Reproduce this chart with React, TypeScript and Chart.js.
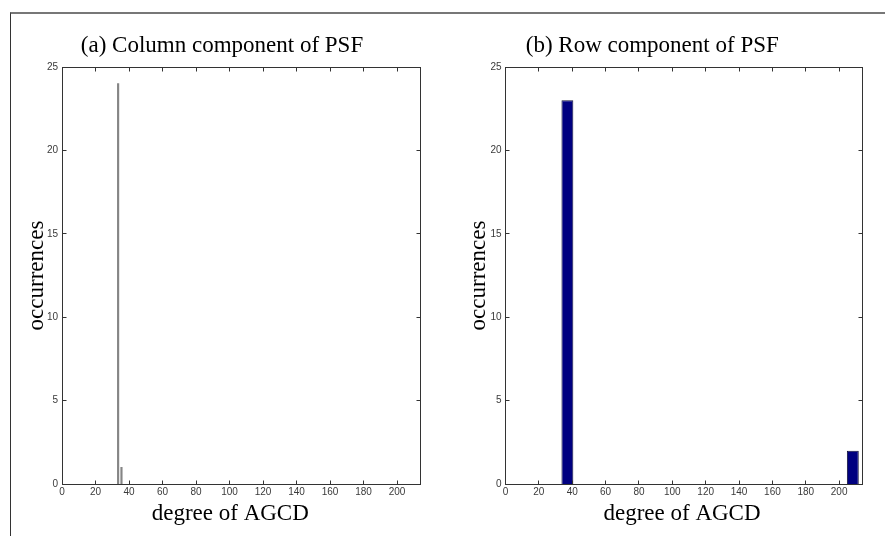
import React, { useEffect, useRef } from 'react';
import { Chart, registerables } from 'chart.js';

Chart.register(...registerables);

// ---- data ----
const xMin = 0;
const xMax = 214;
const xTickStep = 20;
const yMin = 0;
const yMax = 25;
const yTickStep = 5;

const colBinCenters = [33.5, 35.5];
const colCounts = [24, 1];

const rowBinCenters = [37.1, 208.2];
const rowCounts = [23, 2];
const rowBinWidth = 7.13;

const panelTitles = ['(a) Column component of PSF', '(b) Row component of PSF'];
const xAxisLabel = 'degree of AGCD';
const yAxisLabel = 'occurrences';

// ---- styles ----
const SERIF = '"Liberation Serif", "Times New Roman", serif';
const SANS = '"Liberation Sans Narrow", "Liberation Sans", Arial, sans-serif';
const AXIS_COLOR = '#333333';
const TICK_TEXT = '#3a3a3a';

const boxTicksPlugin = {
  id: 'boxTicks',
  afterDraw(chart: any, _args: any, opts: any) {
    const { ctx, chartArea: a, scales } = chart;
    const xs = scales.x;
    const ys = scales.y;
    const len = opts?.length ?? 4;
    const al = (v: number) => Math.floor(v) + 0.5;
    const L = al(a.left);
    const R = al(a.right);
    const T = al(a.top);
    const B = al(a.bottom);
    ctx.save();
    ctx.strokeStyle = AXIS_COLOR;
    ctx.lineWidth = 1;
    ctx.beginPath();
    xs.ticks.forEach((t: any) => {
      const px = al(xs.getPixelForValue(t.value));
      ctx.moveTo(px, B);
      ctx.lineTo(px, B - len);
      ctx.moveTo(px, T);
      ctx.lineTo(px, T + len);
    });
    ys.ticks.forEach((t: any) => {
      const py = al(ys.getPixelForValue(t.value));
      ctx.moveTo(L, py);
      ctx.lineTo(L + len, py);
      ctx.moveTo(R, py);
      ctx.lineTo(R - len, py);
    });
    ctx.stroke();
    ctx.strokeRect(L, T, R - L, B - T);
    ctx.restore();
  },
};

const xCaptionPlugin = {
  id: 'xCaption',
  afterDraw(chart: any, _args: any, opts: any) {
    if (!opts || !opts.text) return;
    const { ctx, chartArea: a } = chart;
    ctx.save();
    ctx.font = `${opts.size}px ${SERIF}`;
    ctx.fillStyle = '#000';
    ctx.textAlign = 'center';
    ctx.textBaseline = 'alphabetic';
    ctx.fillText(opts.text, (a.left + a.right) / 2 + opts.dx, a.bottom + opts.dy);
    ctx.restore();
  },
};

type PanelProps = {
  title: string;
  centers: number[];
  counts: number[];
  dataset: any;
  left: number;
  width: number;
  yAxisWidth: number;
  padLeft: number;
  padRight: number;
  yTitlePad: number;
  captionDx: number;
};

function HistPanel(p: PanelProps) {
  const ref = useRef<HTMLCanvasElement | null>(null);
  useEffect(() => {
    if (!ref.current) return;
    const data = p.centers.map((c, i) => ({ x: c, y: p.counts[i] }));
    const chart = new Chart(ref.current, {
      type: 'bar',
      data: {
        datasets: [
          {
            data,
            ...p.dataset,
          },
        ],
      },
      plugins: [boxTicksPlugin, xCaptionPlugin],
      options: {
        responsive: false,
        animation: false,
        events: [],
        layout: { padding: { left: p.padLeft, top: 0, right: p.padRight, bottom: 0 } },
        plugins: {
          legend: { display: false },
          tooltip: { enabled: false },
          title: {
            display: true,
            text: p.title,
            color: '#000',
            font: { family: SERIF, size: 23, weight: 'normal', lineHeight: 1.2 },
            padding: { top: 31.9, bottom: 7.5 },
          },
          boxTicks: { length: 4 },
          xCaption: { text: xAxisLabel, size: 23, dx: p.captionDx, dy: 36 },
        } as any,
        scales: {
          x: {
            type: 'linear',
            min: xMin,
            max: xMax,
            offset: false,
            grid: { display: false, drawTicks: false },
            border: { display: false },
            ticks: {
              stepSize: xTickStep,
              includeBounds: false,
              padding: 2,
              maxRotation: 0,
              autoSkip: false,
              color: TICK_TEXT,
              font: { family: SANS, size: 10 },
            },
            afterFit: (s: any) => {
              s.height = 52;
            },
          },
          y: {
            type: 'linear',
            min: yMin,
            max: yMax,
            grid: { display: false, drawTicks: false },
            border: { display: false },
            ticks: {
              stepSize: yTickStep,
              includeBounds: false,
              padding: 4,
              color: TICK_TEXT,
              font: { family: SANS, size: 10 },
            },
            title: {
              display: true,
              text: yAxisLabel,
              color: '#000',
              font: { family: SERIF, size: 23, weight: 'normal', lineHeight: 1.2 },
              padding: { top: p.yTitlePad, bottom: 0 },
            },
            afterFit: (s: any) => {
              s.width = p.yAxisWidth;
            },
          },
        },
      } as any,
    });
    return () => chart.destroy();
  }, []);
  return (
    <canvas
      ref={ref}
      width={p.width}
      height={536}
      style={{ position: 'absolute', left: p.left, top: 0, width: p.width, height: 536, display: 'block' }}
    />
  );
}

export default function App() {
  return (
    <div
      style={{
        position: 'absolute',
        left: 0,
        top: 0,
        width: 885,
        height: 536,
        background: '#fff',
        overflow: 'hidden',
      }}
    >
      <HistPanel
        title={panelTitles[0]}
        centers={colBinCenters}
        counts={colCounts}
        dataset={{
          backgroundColor: '#858585',
          borderWidth: 0,
          barThickness: 1.5,
        }}
        left={0}
        width={444}
        yAxisWidth={38.5}
        padLeft={23.5}
        padRight={23.5}
        yTitlePad={-0.3}
        captionDx={-11}
      />
      <HistPanel
        title={panelTitles[1]}
        centers={rowBinCenters}
        counts={rowCounts}
        dataset={{
          backgroundColor: '#000080',
          borderColor: '#14143c',
          borderWidth: 1,
          categoryPercentage: 1,
          barPercentage: rowBinWidth / xTickStep,
        }}
        left={442}
        width={422}
        yAxisWidth={63.5}
        padLeft={0}
        padRight={1.5}
        yTitlePad={23.2}
        captionDx={-2}
      />
      <div
        style={{
          position: 'absolute',
          left: 10,
          top: 12,
          width: 875,
          height: 524,
          borderTop: '2px solid #777',
          borderLeft: '1px solid #333',
          pointerEvents: 'none',
        }}
      />
    </div>
  );
}
